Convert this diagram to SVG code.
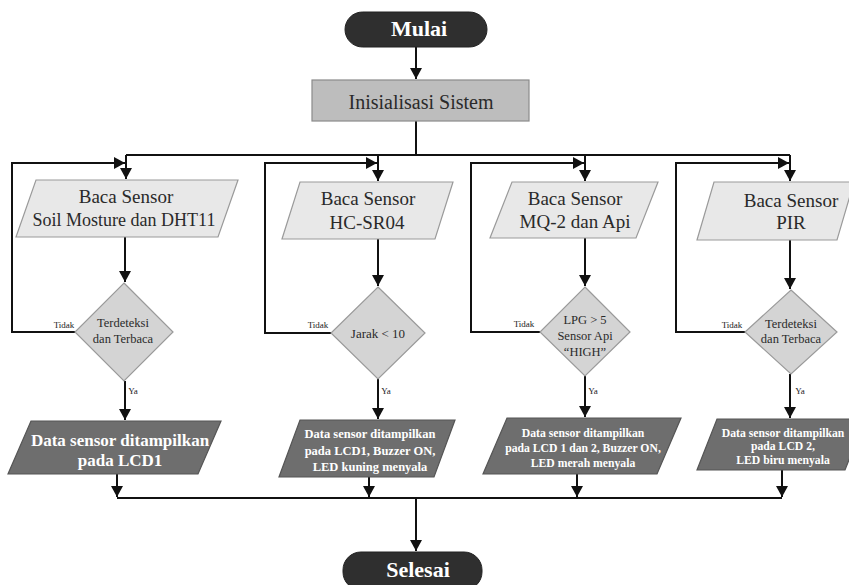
<svg xmlns="http://www.w3.org/2000/svg" width="849" height="585" viewBox="0 0 849 585">
<style>
text{font-family:"Liberation Serif","Times New Roman",serif;text-anchor:middle}
.term{fill:#2f2f2f;stroke:#222;stroke-width:1}
.tt{fill:#fff;font-weight:bold;font-size:22px}
.proc{fill:#bdbdbd;stroke:#8a8a8a;stroke-width:1.2}
.io{fill:#e8e8e8;stroke:#9a9a9a;stroke-width:1.2}
.io-t{fill:#2a2a2a;font-size:19px}
.dec{fill:#d4d4d4;stroke:#9a9a9a;stroke-width:1.2}
.dec-t{fill:#2a2a2a;font-size:12.5px}
.out{fill:#6e6e6e;stroke:#555;stroke-width:1.2}
.out-t{fill:#fff;font-weight:bold}
.lbl{fill:#222;font-size:9px}
.ln{fill:none;stroke:#111;stroke-width:2}
</style>
<defs>
<marker id="ah" markerUnits="userSpaceOnUse" markerWidth="12" markerHeight="12" refX="11" refY="6" orient="auto">
<path d="M0,0 L11,6 L0,12 z" fill="#111"/>
</marker>
</defs>
<rect width="849" height="585" fill="#fff"/>

<g id="connectors">
<path class="ln" d="M416,47 V79" marker-end="url(#ah)"/>
<path class="ln" d="M416,121 V155"/>
<path class="ln" d="M126,155 H790"/>
<path class="ln" d="M126,155 V179" marker-end="url(#ah)"/>
<path class="ln" d="M378,155 V181" marker-end="url(#ah)"/>
<path class="ln" d="M585,155 V181" marker-end="url(#ah)"/>
<path class="ln" d="M790,155 V181" marker-end="url(#ah)"/>
<path class="ln" d="M125,237 V282" marker-end="url(#ah)"/>
<path class="ln" d="M378,239 V286" marker-end="url(#ah)"/>
<path class="ln" d="M585,238 V286" marker-end="url(#ah)"/>
<path class="ln" d="M790,240 V289" marker-end="url(#ah)"/>
<path class="ln" d="M75,332 H12 V163 H125" marker-end="url(#ah)"/>
<path class="ln" d="M331,333 H265 V163 H377" marker-end="url(#ah)"/>
<path class="ln" d="M540,332 H471 V163 H584" marker-end="url(#ah)"/>
<path class="ln" d="M745,332 H676 V163 H789" marker-end="url(#ah)"/>
<path class="ln" d="M125,381 V420" marker-end="url(#ah)"/>
<path class="ln" d="M378,379 V419" marker-end="url(#ah)"/>
<path class="ln" d="M585,376 V417" marker-end="url(#ah)"/>
<path class="ln" d="M790,374 V418" marker-end="url(#ah)"/>
<path class="ln" d="M117,474 V497" marker-end="url(#ah)"/>
<path class="ln" d="M369,477 V497" marker-end="url(#ah)"/>
<path class="ln" d="M577,474 V497" marker-end="url(#ah)"/>
<path class="ln" d="M782,470 V497" marker-end="url(#ah)"/>
<path class="ln" d="M117,498 H782"/>
<path class="ln" d="M416,498 V551" marker-end="url(#ah)"/>
<text class="lbl" x="64" y="328">Tidak</text>
<text class="lbl" x="318" y="328">Tidak</text>
<text class="lbl" x="524" y="327">Tidak</text>
<text class="lbl" x="732" y="328">Tidak</text>
<text class="lbl" x="133" y="394">Ya</text>
<text class="lbl" x="386" y="394">Ya</text>
<text class="lbl" x="593" y="394">Ya</text>
<text class="lbl" x="800" y="394">Ya</text>
</g>

<g id="mulai">
<rect class="term" x="345" y="12" width="142" height="35" rx="17.5"/>
<text class="tt" x="419" y="36">Mulai</text>
</g>

<g id="inisialisasi">
<rect class="proc" x="312" y="80" width="217" height="41"/>
<text x="421" y="109" font-size="20" fill="#2a2a2a">Inisialisasi Sistem</text>
</g>

<g id="baca1">
<polygon class="io" points="36,180 238,180 218,237 16,237"/>
<text class="io-t" x="126" y="203" font-size="18">Baca Sensor</text>
<text class="io-t" x="124" y="226" style="font-size:18px">Soil Mosture dan DHT11</text>
</g>
<g id="baca2">
<polygon class="io" points="300,182 453,182 435,239 282,239"/>
<text class="io-t" x="368" y="205">Baca Sensor</text>
<text class="io-t" x="367" y="229">HC-SR04</text>
</g>
<g id="baca3">
<polygon class="io" points="512,182 658,182 636,238 490,238"/>
<text class="io-t" x="575" y="205">Baca Sensor</text>
<text class="io-t" x="575" y="228">MQ-2 dan Api</text>
</g>
<g id="baca4">
<polygon class="io" points="714,182 854,182 837,240 697,240"/>
<text class="io-t" x="791" y="207">Baca Sensor</text>
<text class="io-t" x="791" y="229">PIR</text>
</g>

<g id="cek1">
<polygon class="dec" points="124,283 173,332 124,381 75,332"/>
<text class="dec-t" x="123" y="327">Terdeteksi</text>
<text class="dec-t" x="123" y="343">dan Terbaca</text>
</g>
<g id="cek2">
<polygon class="dec" points="378,287 425,333 378,379 331,333"/>
<text class="dec-t" x="378" y="338" style="font-size:13px">Jarak &lt; 10</text>
</g>
<g id="cek3">
<polygon class="dec" points="585,287 630,332 585,376 540,332"/>
<text class="dec-t" x="585" y="324">LPG &gt; 5</text>
<text class="dec-t" x="585" y="340">Sensor Api</text>
<text class="dec-t" x="585" y="356">“HIGH”</text>
</g>
<g id="cek4">
<polygon class="dec" points="791,290 837,332 791,374 745,332"/>
<text class="dec-t" x="791" y="328">Terdeteksi</text>
<text class="dec-t" x="791" y="343">dan Terbaca</text>
</g>

<g id="out1">
<polygon class="out" points="31,421 221,421 198,474 8,474"/>
<text class="out-t" x="120" y="446" font-size="17">Data sensor ditampilkan</text>
<text class="out-t" x="120" y="466" font-size="17">pada LCD1</text>
</g>
<g id="out2">
<polygon class="out" points="300,420 455,420 434,477 279,477"/>
<text class="out-t" x="370" y="438" font-size="12.5">Data sensor ditampilkan</text>
<text class="out-t" x="370" y="455" font-size="12.5">pada LCD1, Buzzer ON,</text>
<text class="out-t" x="370" y="471" font-size="12.5">LED kuning menyala</text>
</g>
<g id="out3">
<polygon class="out" points="507,418 681,418 657,474 483,474"/>
<text class="out-t" x="583" y="437" font-size="11.7">Data sensor ditampilkan</text>
<text class="out-t" x="583" y="452" font-size="11.7">pada LCD 1 dan 2, Buzzer ON,</text>
<text class="out-t" x="583" y="467" font-size="11.7">LED merah menyala</text>
</g>
<g id="out4">
<polygon class="out" points="717,419 865,419 845,470 697,470"/>
<text class="out-t" x="783" y="437" font-size="11.7">Data sensor ditampilkan</text>
<text class="out-t" x="783" y="450" font-size="11.7">pada LCD 2,</text>
<text class="out-t" x="783" y="464" font-size="11.7">LED biru menyala</text>
</g>

<g id="selesai">
<rect class="term" x="343" y="552" width="139" height="38" rx="18"/>
<text class="tt" x="418" y="577">Selesai</text>
</g>
</svg>
